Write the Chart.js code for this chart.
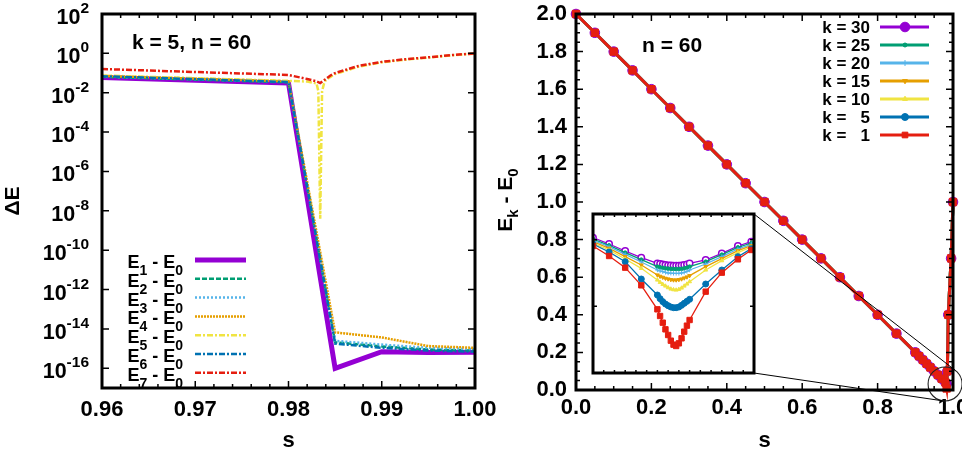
<!DOCTYPE html>
<html><head><meta charset="utf-8">
<script src="https://cdn.jsdelivr.net/npm/chart.js@4.4.1/dist/chart.umd.min.js"></script>
<style>
html,body{margin:0;padding:0;background:#fff;}
#wrap{position:relative;width:962px;height:452px;overflow:hidden;background:#fff;}
canvas{position:absolute;left:0;top:0;}
</style></head><body>
<div id="wrap">
<canvas id="left" width="962" height="452"></canvas>
<canvas id="right" width="962" height="452"></canvas>
<canvas id="inset" width="962" height="452"></canvas>
</div>
<script>
// ================= DATA =================
// ---- left panel: k = 5, n = 60, gaps E_i - E_0 vs s (log scale) ----
const leftXTicks = [0.96, 0.97, 0.98, 0.99, 1.00];
const leftYExponents = [2, 0, -2, -4, -6, -8, -10, -12, -14, -16];
const leftSubscripts = ['1', '2', '3', '4', '5', '6', '7'];
const sCoarse = [0.96, 0.98, 0.985, 0.99, 0.995, 1.00];
const gapE1 = [0.060, 0.031, 1.0e-16, 7.0e-16, 6.3e-16, 6.5e-16];
const gapE2 = [0.064, 0.034, 2.1e-15, 1.3e-15, 9.0e-16, 7.9e-16];
const gapE3 = [0.067, 0.036, 2.5e-15, 1.6e-15, 1.1e-15, 9.5e-16];
const gapE4 = [0.072, 0.038, 6.7e-15, 3.7e-15, 1.35e-15, 1.1e-15];
const gapE6 = [0.069, 0.035, 1.8e-15, 1.1e-15, 8.0e-16, 7.0e-16];
const sE5 = [0.96, 0.98, 0.982, 0.983, 0.9832, 0.9834, 0.9836, 0.9838, 0.984, 0.985, 0.9875, 0.99, 0.9925, 0.995, 0.9975, 1.00];
const gapE5 = [0.075, 0.040, 0.037, 0.030, 0.012, 4e-9, 0.012, 0.028, 0.045, 0.09, 0.21, 0.35, 0.48, 0.61, 0.80, 0.97];
const sE7 = [0.96, 0.98, 0.982, 0.983, 0.9834, 0.984, 0.9845, 0.985, 0.9875, 0.99, 0.9925, 0.995, 0.9975, 1.00];
const gapE7 = [0.16, 0.080, 0.050, 0.038, 0.031, 0.050, 0.075, 0.10, 0.23, 0.37, 0.50, 0.63, 0.82, 1.00];

// ---- right panel: n = 60, E_k - E_0 vs s ----
const rightXTicks = [0.0, 0.2, 0.4, 0.6, 0.8, 1.0];
const rightYTicks = [0.0, 0.2, 0.4, 0.6, 0.8, 1.0, 1.2, 1.4, 1.6, 1.8, 2.0];
const kLabels = ['k = 30', 'k = 25', 'k = 20', 'k = 15', 'k = 10', 'k =   5', 'k =   1'];
const sMain = [0.00, 0.05, 0.10, 0.15, 0.20, 0.25, 0.30, 0.35, 0.40, 0.45, 0.50, 0.55, 0.60, 0.65, 0.70, 0.75, 0.80, 0.85,
               0.90, 0.91, 0.92, 0.93, 0.94, 0.95, 0.96, 0.97, 0.98];
const gapMain = [2.00, 1.90, 1.80, 1.70, 1.60, 1.50, 1.40, 1.30, 1.20, 1.10, 1.00, 0.90, 0.80, 0.70, 0.60, 0.50, 0.40, 0.30,
                 0.20, 0.18, 0.16, 0.14, 0.12, 0.10, 0.08, 0.06, 0.04];
const sMinMain = 0.9831;
const gapMinByK = [0.0322, 0.0312, 0.0299, 0.0279, 0.0249, 0.0196, 0.0081];
const sRise = [0.985, 0.9875, 0.995, 1.00];
const gapRise = [0.10, 0.40, 0.70, 1.00];

// ---- inset (zoom near the minimum gap) ----
const sInset = [0.9800, 0.9806, 0.9812, 0.9818,
                0.9824, 0.9825, 0.9826, 0.9827, 0.9828, 0.9829, 0.9830, 0.9831, 0.9832, 0.9833, 0.9834, 0.9835, 0.9836,
                0.9842, 0.9848, 0.9854, 0.9859];
const insetK30 = [.0406,.0387,.0366,.0346, .0329,.0327,.03255,.0324,.0323,.03225,.0322,.0322,.0322,.03225,.0324,.0326,.0329, .0339,.0359,.0381,.0394];
const insetK25 = [.0402,.0383,.0361,.0340, .0319,.0317,.03155,.0314,.0313,.03125,.0312,.0312,.0312,.03125,.0314,.0316,.0319, .0334,.0355,.0377,.0390];
const insetK20 = [.0398,.0379,.0356,.0333, .0309,.0306,.0304,.0302,.0300,.02995,.0299,.0299,.0299,.0300,.0302,.0305,.0309, .0327,.0349,.0372,.0386];
const insetK15 = [.0394,.0374,.0349,.0324, .0294,.0290,.0287,.0284,.0282,.0280,.0279,.0279,.0280,.0282,.0285,.0288,.0292, .0319,.0343,.0367,.0382];
const insetK10 = [.0390,.0369,.0342,.0314, .0279,.0272,.0266,.0261,.0256,.0252,.0250,.0249,.0251,.0255,.0261,.0267,.0274, .0309,.0337,.0361,.0378];
const insetK5  = [.0387,.0363,.0334,.0282, .0234,.0223,.0214,.0207,.0202,.0198,.0196,.0196,.0198,.0203,.0209,.0215,.0221, .0267,.0309,.0349,.0373];
const insetK1  = [.0381,.0351,.0316,.0263, .0191,.0171,.0151,.0131,.0114,.0097,.0085,.0081,.0089,.0104,.0124,.0142,.0159, .0244,.0301,.0341,.0369];
const zoomCenter = {s: 0.979, e: 0.032};

// ================= STYLE / LAYOUT =================
const FONT = '"Liberation Sans", Arial, Helvetica, sans-serif';
Chart.defaults.font.family = FONT;
Chart.defaults.font.weight = 'bold';
Chart.defaults.color = '#000';
Chart.defaults.animation = false;

const gp = ['#9400d3', '#009e73', '#56b4e9', '#e69f00', '#f0e442', '#0072b2', '#e51e10'];
const leftStyle = [
  {w: 5,   dash: []},
  {w: 2.5, dash: [5, 2]},
  {w: 2.5, dash: [2, 2]},
  {w: 2.5, dash: [2, 1]},
  {w: 2.5, dash: [6, 2, 2, 2]},
  {w: 2.5, dash: [6, 2, 2, 2]},
  {w: 2.5, dash: [6, 2, 2, 2]}
];
const kMarker = [
  {style: 'circle',   r: 4.8, ri: 3.2, rot: 0},
  {style: 'circle',   r: 2,   ri: 1.8, rot: 0},
  {style: 'cross',    r: 3,   ri: 2.2, rot: 0},
  {style: 'triangle', r: 2.8, ri: 2.2, rot: 180},
  {style: 'triangle', r: 2.8, ri: 2.2, rot: 0},
  {style: 'circle',   r: 3.5, ri: 3.0, rot: 0},
  {style: 'rect',     r: 5.2, ri: 3.8, rot: 0}
];
const INSET = {left: 593, top: 214, right: 754, bottom: 373};
const TICK_FONT = 22;

function setFont(ctx, size) { ctx.font = 'bold ' + size + 'px ' + FONT; }
function drawRich(ctx, parts, x, y, align) {
  let w = 0;
  parts.forEach(p => { setFont(ctx, p[1]); w += ctx.measureText(p[0]).width; });
  let cx = align === 'right' ? x - w : (align === 'center' ? x - w / 2 : x);
  ctx.textAlign = 'left';
  ctx.textBaseline = 'alphabetic';
  parts.forEach(p => { setFont(ctx, p[1]); ctx.fillText(p[0], cx, y + p[2]); cx += ctx.measureText(p[0]).width; });
}
function steps(min, max, step) {
  const out = []; const n = Math.round((max - min) / step);
  for (let i = 0; i <= n; i++) out.push(min + i * step);
  return out;
}
function drawFrame(chart, spec) {
  const {ctx, chartArea: a, scales: {x, y}} = chart;
  ctx.save();
  ctx.strokeStyle = '#000';
  ctx.setLineDash([]);
  ctx.lineWidth = spec.tickW;
  ctx.beginPath();
  const addX = (v, len) => { const p = x.getPixelForValue(v); ctx.moveTo(p, a.bottom); ctx.lineTo(p, a.bottom - len); ctx.moveTo(p, a.top); ctx.lineTo(p, a.top + len); };
  const addY = (v, len) => { const p = y.getPixelForValue(v); ctx.moveTo(a.left, p); ctx.lineTo(a.left + len, p); ctx.moveTo(a.right, p); ctx.lineTo(a.right - len, p); };
  spec.xMajor.forEach(v => addX(v, spec.major));
  spec.xMinor.forEach(v => addX(v, spec.minor));
  spec.yMajor.forEach(v => addY(v, spec.major));
  spec.yMinor.forEach(v => addY(v, spec.minor));
  ctx.stroke();
  ctx.lineWidth = spec.frame;
  ctx.strokeRect(a.left, a.top, a.right - a.left, a.bottom - a.top);
  ctx.restore();
}
function marker(ctx, m, r, x, y, color, fill) {
  ctx.save();
  ctx.strokeStyle = color; ctx.fillStyle = fill; ctx.lineWidth = 1;
  Chart.helpers.drawPoint(ctx, {pointStyle: m.style, radius: r, rotation: m.rot, borderWidth: 1}, x, y);
  ctx.restore();
}

// ================= LEFT CHART =================
const leftSeries = [
  {xs: sCoarse, ys: gapE1}, {xs: sCoarse, ys: gapE2}, {xs: sCoarse, ys: gapE3}, {xs: sCoarse, ys: gapE4},
  {xs: sE5, ys: gapE5}, {xs: sCoarse, ys: gapE6}, {xs: sE7, ys: gapE7}
];
const leftPlugin = {
  id: 'leftDecor',
  afterDraw(chart) {
    const {ctx, chartArea: a, scales: {y}} = chart;
    drawFrame(chart, {tickW: 1.5, frame: 3, major: 7, minor: 4,
      xMajor: leftXTicks, xMinor: steps(0.96, 1.0, 0.002),
      yMajor: leftYExponents.map(e => Math.pow(10, e)), yMinor: []});
    ctx.save();
    ctx.fillStyle = '#000';
    // log tick labels 10^n
    leftYExponents.forEach(e => {
      const p = y.getPixelForValue(Math.pow(10, e));
      drawRich(ctx, [['10', 21.5, 0], [String(e), 15.5, -11]], a.left - 13, p + 10, 'right');
    });
    // annotation
    drawRich(ctx, [['k = 5, n = 60', 21, 0]], a.left + 30, a.top + 35, 'left');
    // legend
    leftSubscripts.forEach((sub, i) => {
      const ry = 260 + i * 18.8;
      drawRich(ctx, [['E', 18, 0], [sub, 14, 7], [' - E', 18, 0], ['0', 14, 7]], 183, ry + 8, 'right');
      ctx.strokeStyle = gp[i];
      ctx.lineWidth = leftStyle[i].w;
      ctx.setLineDash(leftStyle[i].dash);
      ctx.beginPath(); ctx.moveTo(195, ry); ctx.lineTo(246, ry); ctx.stroke();
    });
    ctx.restore();
  }
};
new Chart(document.getElementById('left'), {
  type: 'line',
  data: {
    datasets: leftSeries.map((s, i) => ({
      label: 'E' + leftSubscripts[i] + ' - E0',
      data: s.xs.map((x, j) => ({x: x, y: s.ys[j]})),
      borderColor: gp[i], backgroundColor: gp[i],
      borderWidth: leftStyle[i].w, borderDash: leftStyle[i].dash,
      pointRadius: 0, tension: 0, fill: false, order: leftSeries.length - i
    }))
  },
  options: {
    responsive: false, devicePixelRatio: 1, animation: false,
    layout: {padding: {left: 0, right: 487, top: 14, bottom: 0}},
    plugins: {legend: {display: false}, tooltip: {enabled: false}},
    scales: {
      x: {type: 'linear', min: 0.96, max: 1.0,
        grid: {display: false, drawTicks: false}, border: {display: false},
        afterBuildTicks: sc => { sc.ticks = leftXTicks.map(v => ({value: v})); },
        ticks: {font: {size: TICK_FONT, weight: 'bold'}, padding: 9, maxRotation: 0, autoSkip: false, callback: v => v.toFixed(2)},
        title: {display: true, text: 's', font: {size: 22, weight: 'bold', lineHeight: 1}, padding: 0},
        afterFit: sc => { sc.height = 64; sc.paddingLeft = 0; sc.paddingRight = 0; }
      },
      y: {type: 'logarithmic', min: 1e-17, max: 1e2,
        grid: {display: false, drawTicks: false}, border: {display: false},
        ticks: {display: false},
        afterBuildTicks: sc => { sc.ticks = leftYExponents.map(e => ({value: Math.pow(10, e)})); },
        title: {display: true, text: 'ΔE', font: {size: 21, weight: 'bold'}, padding: {top: 1, bottom: 0}},
        afterFit: sc => { sc.width = 102; sc.paddingTop = 0; sc.paddingBottom = 0; }
      }
    }
  },
  plugins: [leftPlugin]
});

// ================= RIGHT CHART =================
const rightPlugin = {
  id: 'rightDecor',
  afterDraw(chart) {
    const {ctx, scales: {x, y}} = chart;
    // zoom circle + connectors
    const cx = x.getPixelForValue(zoomCenter.s), cy = y.getPixelForValue(zoomCenter.e), r = 17;
    ctx.save();
    ctx.strokeStyle = '#222'; ctx.lineWidth = 1.1;
    ctx.beginPath(); ctx.arc(cx, cy, r, 0, Math.PI * 2); ctx.stroke();
    const tangent = (px, py, sign) => {
      const dx = px - cx, dy = py - cy, d = Math.hypot(dx, dy);
      const base = Math.atan2(dy, dx), off = Math.acos(r / d);
      const ang = base + sign * off;
      return [cx + r * Math.cos(ang), cy + r * Math.sin(ang)];
    };
    const t1 = tangent(INSET.right, INSET.top, 1);
    const t2 = tangent(INSET.right, INSET.bottom, -1);
    ctx.strokeStyle = '#000'; ctx.lineWidth = 1;
    ctx.beginPath();
    ctx.moveTo(INSET.right, INSET.top); ctx.lineTo(t1[0], t1[1]);
    ctx.moveTo(INSET.right, INSET.bottom); ctx.lineTo(t2[0], t2[1]);
    ctx.stroke();
    ctx.restore();

    drawFrame(chart, {tickW: 1.5, frame: 3, major: 7, minor: 4,
      xMajor: rightXTicks, xMinor: steps(0, 1, 0.05),
      yMajor: rightYTicks, yMinor: steps(0, 2, 0.05)});

    ctx.save();
    ctx.fillStyle = '#000';
    drawRich(ctx, [['n = 60', 21, 0]], 642, 52, 'left');
    // y title E_k - E_0
    ctx.translate(512, 200);
    ctx.rotate(-Math.PI / 2);
    drawRich(ctx, [['E', 21, 0], ['k', 15, 6], [' - E', 21, 0], ['0', 15, 6]], 0, 0, 'center');
    ctx.restore();

    // legend
    ctx.save();
    kLabels.forEach((lab, i) => {
      const ry = 27 + i * 18;
      ctx.fillStyle = '#000';
      drawRich(ctx, [[lab, 17, 0]], 870, ry + 6, 'right');
      ctx.strokeStyle = gp[i]; ctx.lineWidth = 3; ctx.setLineDash([]);
      ctx.beginPath(); ctx.moveTo(880, ry); ctx.lineTo(929, ry); ctx.stroke();
      marker(ctx, kMarker[i], i === 6 ? 4 : kMarker[i].r, 905, ry, gp[i], gp[i]);
    });
    ctx.restore();
  }
};
new Chart(document.getElementById('right'), {
  type: 'line',
  data: {
    datasets: kLabels.map((lab, i) => {
      const pts = sMain.map((s, j) => ({x: s, y: gapMain[j]}));
      pts.push({x: sMinMain, y: gapMinByK[i]});
      sRise.forEach((s, j) => pts.push({x: s, y: gapRise[j]}));
      return {
        label: lab, data: pts,
        borderColor: gp[i], backgroundColor: gp[i], borderWidth: 3,
        pointStyle: kMarker[i].style, pointRadius: kMarker[i].r, pointRotation: kMarker[i].rot,
        pointBorderWidth: 1, pointBackgroundColor: gp[i], pointBorderColor: gp[i],
        tension: 0, fill: false, clip: false, order: kLabels.length - 1 - i
      };
    })
  },
  options: {
    responsive: false, devicePixelRatio: 1, animation: false,
    layout: {padding: {left: 481, right: 9, top: 14, bottom: 0}},
    plugins: {legend: {display: false}, tooltip: {enabled: false}},
    scales: {
      x: {type: 'linear', min: 0, max: 1,
        grid: {display: false, drawTicks: false}, border: {display: false},
        afterBuildTicks: sc => { sc.ticks = rightXTicks.map(v => ({value: v})); },
        ticks: {font: {size: TICK_FONT, weight: 'bold'}, padding: 5, maxRotation: 0, autoSkip: false, callback: v => v.toFixed(1)},
        title: {display: true, text: 's', font: {size: 22, weight: 'bold', lineHeight: 1}, padding: 0},
        afterFit: sc => { sc.height = 62; sc.paddingLeft = 0; sc.paddingRight = 0; }
      },
      y: {type: 'linear', min: 0, max: 2,
        grid: {display: false, drawTicks: false}, border: {display: false},
        afterBuildTicks: sc => { sc.ticks = rightYTicks.map(v => ({value: v})); },
        ticks: {font: {size: TICK_FONT, weight: 'bold'}, padding: 9, autoSkip: false, callback: v => v.toFixed(1)},
        afterFit: sc => { sc.width = 95; sc.paddingTop = 0; sc.paddingBottom = 0; }
      }
    }
  },
  plugins: [rightPlugin]
});

// ================= INSET CHART =================
const insetSeries = [insetK30, insetK25, insetK20, insetK15, insetK10, insetK5, insetK1];
const insetPlugin = {
  id: 'insetDecor',
  beforeDatasetsDraw(chart) {
    const {ctx, chartArea: a} = chart;
    ctx.save(); ctx.fillStyle = '#fff';
    ctx.fillRect(a.left, a.top, a.right - a.left, a.bottom - a.top);
    ctx.restore();
  },
  afterDraw(chart) {
    drawFrame(chart, {tickW: 1.5, frame: 3, major: 4, minor: 3,
      xMajor: [], xMinor: steps(0.98, 0.986, 0.0004),
      yMajor: [0.02, 0.04], yMinor: []});
  }
};
new Chart(document.getElementById('inset'), {
  type: 'line',
  data: {
    datasets: insetSeries.map((arr, i) => ({
      label: kLabels[i],
      data: sInset.map((s, j) => ({x: s, y: arr[j]})),
      borderColor: gp[i], backgroundColor: gp[i], borderWidth: 1.3,
      pointStyle: kMarker[i].style, pointRadius: kMarker[i].ri, pointRotation: kMarker[i].rot,
      pointBorderWidth: i === 0 ? 1.5 : 1,
      pointBackgroundColor: i === 0 ? '#fff' : gp[i], pointBorderColor: gp[i],
      tension: 0, fill: false, order: kLabels.length - 1 - i
    }))
  },
  options: {
    responsive: false, devicePixelRatio: 1, animation: false,
    layout: {padding: {left: INSET.left, right: 962 - INSET.right, top: INSET.top, bottom: 452 - INSET.bottom}},
    plugins: {legend: {display: false}, tooltip: {enabled: false}},
    scales: {
      x: {type: 'linear', display: false, min: 0.98, max: 0.986},
      y: {type: 'linear', display: false, min: 0, max: 0.0477}
    }
  },
  plugins: [insetPlugin]
});
</script>
</body></html>
